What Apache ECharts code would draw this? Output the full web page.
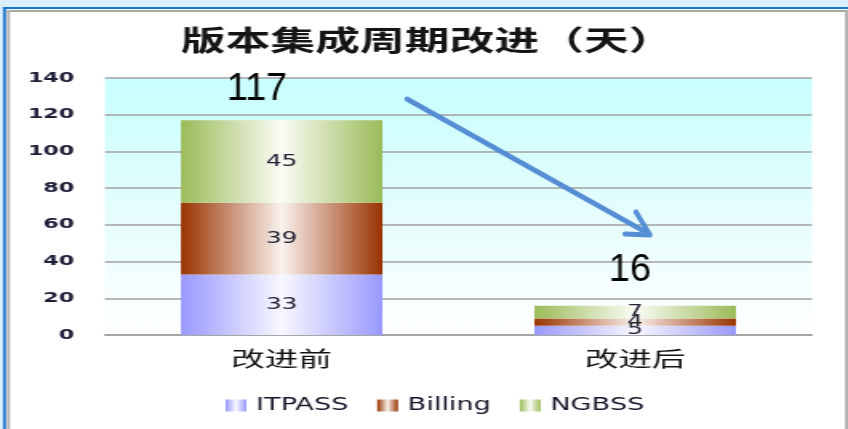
<!DOCTYPE html>
<html>
<head>
<meta charset="utf-8">
<script src="https://cdn.jsdelivr.net/npm/echarts@6/dist/echarts.min.js"></script>
<style>
html,body{margin:0;padding:0;background:#ffffff;overflow:hidden;}
#wrap{width:848px;height:429px;position:relative;overflow:hidden;}
#chart{width:530px;height:429px;transform:scaleX(1.6);transform-origin:0 0;position:absolute;left:0;top:0;}
</style>
</head>
<body>
<div id="wrap"><div id="chart"></div></div>
<script>
// ---- data ----
var categories = ['改进前', '改进后'];
var seriesNames = ['ITPASS', 'Billing', 'NGBSS'];
var itpass = [33, 5];
var billing = [39, 4];
var ngbss = [45, 7];
var yTicks = [0, 20, 40, 60, 80, 100, 120, 140];
var titleText = '版本集成周期改进（天）';

var S = 1.6; // horizontal stretch of the original picture
var baseColors = ['#9999ff', '#993300', '#9bbb59'];
var centerColors = ['#f8f8ff', '#faf2ee', '#fbfcf5'];
var values = [itpass, billing, ngbss];
var totals = categories.map(function (c, i) { return itpass[i] + billing[i] + ngbss[i]; });

function grad(i) {
  return new echarts.graphic.LinearGradient(0, 0, 1, 0, [
    {offset: 0, color: baseColors[i]},
    {offset: 0.5, color: centerColors[i]},
    {offset: 1, color: baseColors[i]}
  ]);
}

var chart = echarts.init(document.getElementById('chart'), null, {renderer: 'canvas'});

var series = seriesNames.map(function (n, i) {
  return {
    name: n,
    type: 'bar',
    stack: 'total',
    barWidth: '57%',
    data: values[i],
    itemStyle: {color: grad(i)},
    label: {
      show: true,
      position: 'inside',
      color: '#222233',
      fontSize: 15.5,
      fontFamily: 'DejaVu Sans'
    }
  };
});

var option = {
  animation: false,
  backgroundColor: '#ffffff',
  title: {
    text: titleText,
    left: 108,
    top: 21,
    textStyle: {fontFamily: 'Noto Sans CJK SC', fontSize: 28, fontWeight: 'bold', color: '#151515'}
  },
  legend: {
    data: seriesNames,
    left: 136,
    top: 392,
    itemWidth: 13,
    itemHeight: 12,
    itemGap: 18,
    icon: 'rect',
    textStyle: {fontFamily: 'DejaVu Sans', fontSize: 17, color: '#15152a', padding: [0, 0, 0, 1]}
  },
  grid: {
    left: 65.6,
    right: 22.5,
    top: 78,
    bottom: 94,
    show: true,
    borderWidth: 0,
    backgroundColor: new echarts.graphic.LinearGradient(0, 0, 0, 1, [
      {offset: 0, color: '#c8ffff'},
      {offset: 0.5, color: '#e4fdfd'},
      {offset: 1, color: '#ffffff'}
    ])
  },
  xAxis: {
    type: 'category',
    data: categories,
    axisLine: {show: true, lineStyle: {color: '#a0a0a0', width: 1.5}},
    axisTick: {show: false},
    axisLabel: {fontFamily: 'Noto Sans CJK SC', fontSize: 21, color: '#111111', margin: 13}
  },
  yAxis: {
    type: 'value',
    min: yTicks[0],
    max: yTicks[yTicks.length - 1],
    interval: yTicks[1] - yTicks[0],
    axisLine: {show: false},
    axisTick: {show: false},
    axisLabel: {fontFamily: 'DejaVu Sans', fontSize: 14, fontWeight: 'bold', color: '#1f1f3a', margin: 19},
    splitLine: {lineStyle: {color: '#a0a0a0', width: 1.5}}
  },
  series: series,
  graphic: [{
    type: 'group',
    x: 0, y: 0,
    scaleX: 1 / S,
    children: [
      {type: 'rect', shape: {x: 0, y: 0, width: 848, height: 7}, style: {fill: '#dcefff'}},
      {type: 'rect', shape: {x: 0, y: 0, width: 3, height: 429}, style: {fill: '#dcefff'}},
      {type: 'rect', shape: {x: 3, y: 7, width: 845, height: 2}, style: {fill: '#1a75cc'}},
      {type: 'rect', shape: {x: 3, y: 7, width: 3, height: 422}, style: {fill: '#1a75cc'}},
      {type: 'rect', shape: {x: 7, y: 10, width: 841, height: 2}, style: {fill: '#a8a8a8'}},
      {type: 'rect', shape: {x: 7, y: 10, width: 3, height: 419}, style: {fill: '#b0b0b0'}},
      {type: 'rect', shape: {x: 845, y: 10, width: 3, height: 419}, style: {fill: '#b0b0b0'}},
      {type: 'text', x: 257, y: 90, style: {text: String(totals[0]), fontFamily: 'Liberation Sans', fontSize: 38, fill: '#000000', textAlign: 'center', textVerticalAlign: 'middle'}, z: 10},
      {type: 'text', x: 630, y: 271, style: {text: String(totals[1]), fontFamily: 'Liberation Sans', fontSize: 38, fill: '#000000', textAlign: 'center', textVerticalAlign: 'middle'}, z: 10},
      {type: 'polyline', shape: {points: [[407, 99], [649, 234]]}, style: {stroke: '#558ed5', lineWidth: 5, lineCap: 'round', fill: null}, z: 10},
      {type: 'polyline', shape: {points: [[625, 234], [650, 235], [636, 212]]}, style: {stroke: '#558ed5', lineWidth: 5, lineCap: 'round', lineJoin: 'round', fill: null}, z: 10}
    ]
  }]
};
chart.setOption(option);
</script>
</body>
</html>
